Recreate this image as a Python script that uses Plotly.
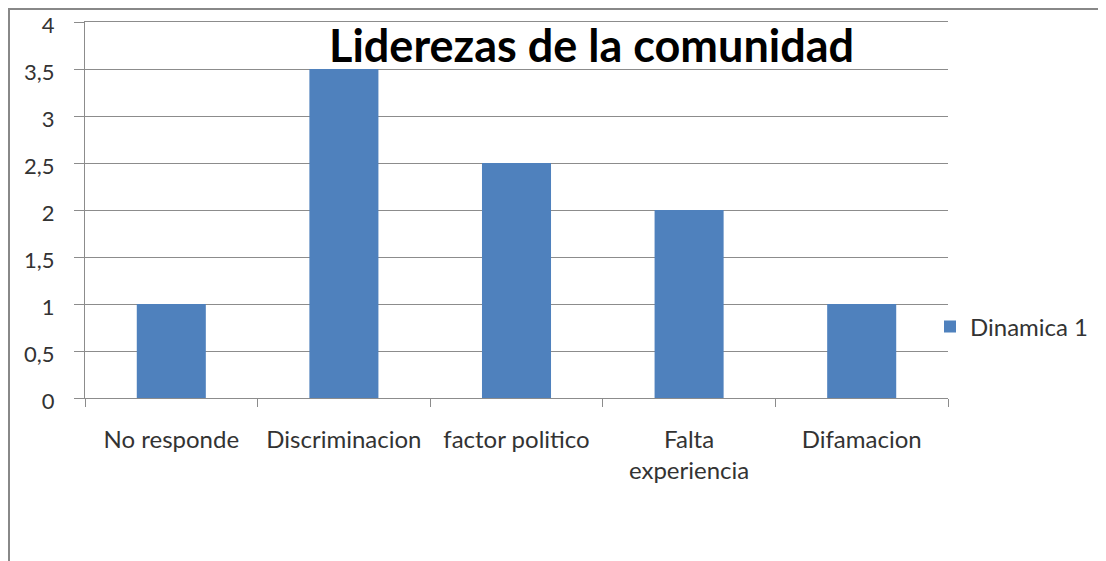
import plotly.graph_objects as go

categories = ["No responde", "Discriminacion", "factor politico", "Falta<br>experiencia", "Difamacion"]
values = [1, 3.5, 2.5, 2, 1]
series_name = "Dinamica 1"
y_ticks = [0, 0.5, 1, 1.5, 2, 2.5, 3, 3.5, 4]
y_tick_labels = ["0", "0,5", "1", "1,5", "2", "2,5", "3", "3,5", "4"]

W, H = 1106, 561
L, R, T, B = 77, 940, 14, 390  # plot area in figure pixels
PW, PH = R - L, B - T

def px(x):
    return (x - L) / PW

def py(y):
    return (B - y) / PH

fig = go.Figure()
fig.add_trace(go.Bar(x=categories, y=values, name=series_name,
                     marker=dict(color="#4F81BD", line=dict(width=0))))

fig.update_layout(
    width=W, height=H,
    margin=dict(l=L, r=W - R, t=T, b=H - B),
    paper_bgcolor="white", plot_bgcolor="white",
    bargap=0.6,
    showlegend=True,
    font=dict(family="Lato", size=24, color="#333333"),
    legend=dict(x=px(922), y=py(319), xanchor="left", yanchor="middle",
                font=dict(size=24, color="#333333"), itemwidth=30,
                bgcolor="rgba(0,0,0,0)"),
    annotations=[dict(text="<b>Liderezas de la comunidad</b>", x=px(583), y=py(37),
                      xref="paper", yref="paper", showarrow=False,
                      xanchor="center", yanchor="middle",
                      font=dict(size=45, color="black", family="Lato"))],
)

fig.update_xaxes(showline=True, mirror=True, linecolor="#8c8c8c", linewidth=1,
                 ticks="outside", ticklen=8, tickcolor="#8c8c8c",
                 tickson="boundaries", showgrid=False, tickfont=dict(size=24),
                 ticklabelstandoff=20, automargin=False)
fig.update_yaxes(range=[0, 4], tickvals=y_ticks, ticktext=y_tick_labels,
                 showline=True, linecolor="#8c8c8c", linewidth=1,
                 showgrid=True, gridcolor="#8c8c8c", gridwidth=1,
                 ticks="outside", ticklen=10, tickcolor="#8c8c8c",
                 zeroline=False, tickfont=dict(size=22), ticklabelstandoff=15,
                 ticklabelshift=3, ticklabeloverflow="allow", automargin=False)

fig.add_shape(type="line", xref="paper", yref="paper",
              x0=px(0), x1=px(W), y0=py(1), y1=py(1),
              line=dict(color="#888888", width=2))
fig.add_shape(type="line", xref="paper", yref="paper",
              x0=px(1), x1=px(1), y0=py(H), y1=py(1),
              line=dict(color="#888888", width=2))

fig.write_html("out.html")
